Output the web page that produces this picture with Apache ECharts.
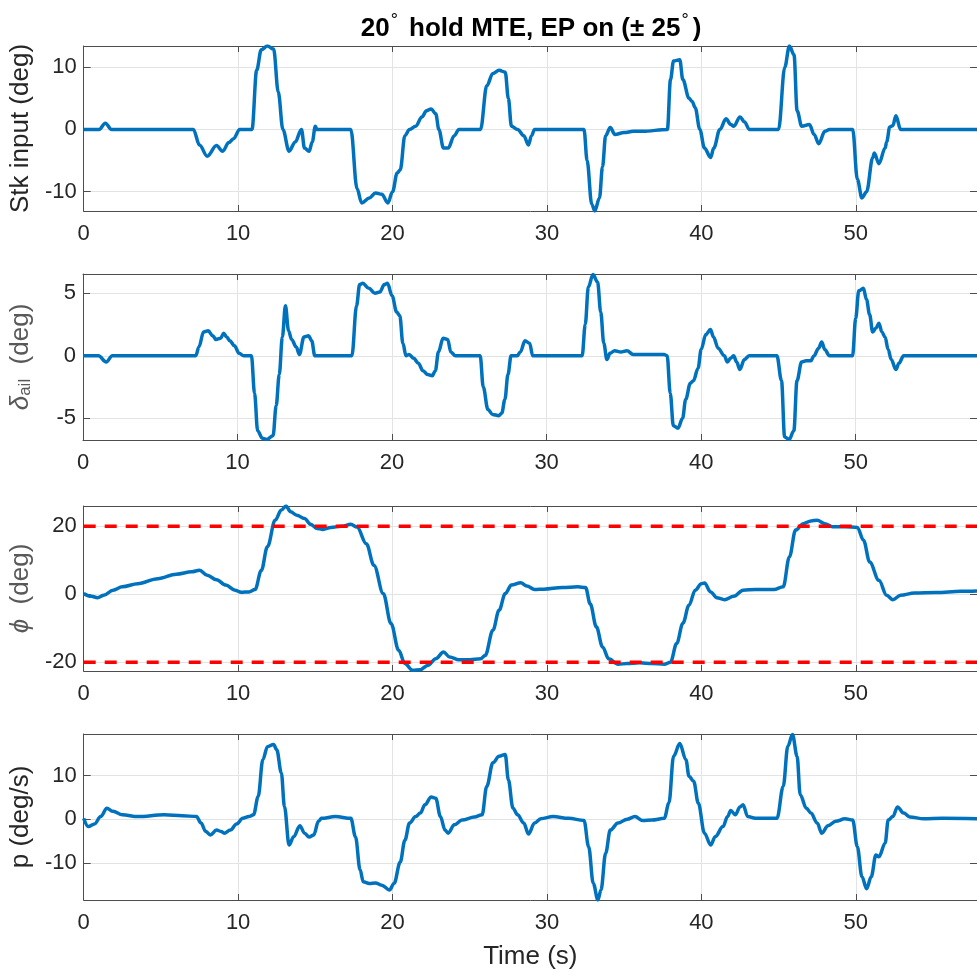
<!DOCTYPE html>
<html><head><meta charset="utf-8">
<script src="https://cdn.jsdelivr.net/npm/echarts@6/dist/echarts.min.js"></script>
<style>html,body{margin:0;padding:0;background:#fff}#c{width:977px;height:976px}</style>
</head><body><div id="c"></div>
<script>
// ---- data ----
const xTicks = [0, 10, 20, 30, 40, 50];
const xMax = 57.85;
const stkT = [0,1.0,1.4,1.8,7.1,7.5,8.0,8.6,9.0,9.4,9.7,10.1,10.9,11.2,11.5,11.9,12.3,12.6,12.9,13.3,13.7,14.1,14.3,14.6,14.8,15.0,15.1,17.3,17.7,18.0,18.5,18.9,19.3,19.7,20.0,20.3,20.5,20.8,21.1,21.5,21.9,22.2,22.5,22.8,23.0,23.3,23.6,24.0,24.3,25.7,26.1,26.5,26.9,27.3,27.5,27.7,28.1,28.5,28.8,29.0,29.2,32.4,32.6,32.9,33.1,33.4,33.6,33.8,34.1,34.4,35.0,35.6,36.2,37.8,38.0,38.2,38.6,38.8,39.2,39.4,39.6,39.9,40.2,40.6,40.8,41.2,41.6,41.9,42.1,42.5,42.8,43.1,45.0,45.4,45.7,46.0,46.2,46.5,47.0,47.3,47.6,48.0,48.3,49.8,50.1,50.4,50.7,51.1,51.2,51.5,51.9,52.0,52.2,52.4,52.6,52.9,57.85];
const stkV = [0,0,1.0,0,0,-2.5,-4.3,-2.6,-3.5,-2.1,-1.5,0,0,9.5,12.8,13.4,12.9,6,0,-3.5,-2,0,-3,-3.5,-2,0.5,0,0,-9.5,-11.8,-11,-10.2,-10.4,-11.8,-10,-7,-6.5,-1,0,0.5,2,3,3.3,2.5,0,-3,-3,-1,0,0,7,9,9.5,9.2,5,0.5,0,-1,-2.5,-1,0,0,-5,-12,-13.1,-11,-6,-1,0.3,-0.8,-0.5,-0.3,-0.3,0,8,11,11.2,8,5,4.5,3.5,0,-3,-4.5,-3,0,1.7,0.8,0.5,2,1.2,0,0,10,13.4,12,3,0.5,0.8,-0.8,-2.3,-0.3,0,0,-8,-11,-10,-4.5,-3.8,-5.5,-3,-2,0.4,0.6,2.2,0,0];

const ailT = [0,1.0,1.5,1.9,7.3,7.5,7.8,8.1,8.4,8.6,8.9,9.1,9.3,9.5,9.8,10.1,10.4,10.9,11.1,11.3,11.6,11.9,12.3,12.5,12.7,12.9,13.1,13.3,13.5,13.8,14.0,14.3,14.6,14.8,15.0,17.4,17.7,17.9,18.1,18.5,18.9,19.2,19.5,19.7,20.0,20.3,20.5,20.7,20.9,21.1,21.4,21.7,22.0,22.3,22.6,22.8,23.0,23.3,23.6,23.8,24.1,25.7,25.9,26.2,26.5,26.9,27.1,27.3,27.5,27.7,28.1,28.3,28.6,28.9,29.1,32.3,32.5,32.7,33.0,33.3,33.5,33.7,33.9,34.1,34.4,34.8,35.2,35.6,37.6,37.8,38.0,38.2,38.5,38.8,39.0,39.3,39.5,39.8,40.0,40.3,40.6,40.8,41.1,41.5,41.7,41.9,42.1,42.3,42.5,42.8,43.1,44.9,45.2,45.4,45.7,46.0,46.2,46.5,46.8,47.1,47.3,47.6,47.8,48.0,48.3,49.8,50.0,50.2,50.5,50.7,50.9,51.1,51.3,51.5,51.7,51.9,52.1,52.3,52.6,52.8,53.1,57.85];
const ailV = [0,0,-0.5,0,0,0.7,1.9,2.0,1.6,1.3,1.4,1.8,1.5,1.2,0.8,0.2,0,0,-3,-6,-6.6,-6.7,-6.4,-4,-1.5,1.5,4.0,2,1.3,0.7,0.1,1.5,1.6,1.2,0,0,4,5.7,5.8,5.4,5.0,5.1,5.7,5.8,4.8,3.5,3.2,1,0,0.1,-0.2,-0.6,-1.2,-1.5,-1.6,-1.2,0.3,1.4,1.3,0.3,0,0,-2.5,-4.3,-4.7,-4.8,-4.6,-3.5,-1.5,0,0,0.3,1.2,1.0,0,0,2.5,5.5,6.5,5.9,3.5,1,-0.3,0.2,0.4,0.3,0.4,0.1,0.1,0,-3,-5.6,-5.8,-5,-3.5,-2.2,-2,-1,0.5,1.7,2.1,1.5,0.6,0,-0.5,-0.2,0,-0.5,-1.1,-0.3,0,0,-2,-6.5,-6.7,-6,-2,-0.5,-0.4,-0.4,0,0.6,1.1,0.5,0,0,3,5.2,5.4,4.5,3.3,1.9,2.2,2.6,1.9,1.5,0.5,-0.3,-1.1,-0.6,0,0];

const phiT = [0,0.5,0.9,1.3,1.9,2.5,3.5,4.8,6.0,7.0,7.5,8.0,8.6,9.2,9.8,10.2,10.7,11.1,11.5,11.9,12.4,12.8,13.1,13.4,13.8,14.3,14.7,15.1,15.5,16.0,16.7,17.3,17.7,18.3,18.8,19.4,19.9,20.4,20.8,21.3,21.8,22.3,22.8,23.3,23.7,24.3,25.0,25.7,26.0,26.5,26.9,27.3,27.7,28.3,28.7,29.2,29.8,31.0,32.0,32.5,32.8,33.2,33.6,34.0,34.6,35.2,36.0,36.8,37.6,38.0,38.4,38.8,39.2,39.6,40.0,40.2,40.6,41.0,41.5,42.1,42.7,43.5,44.7,45.3,45.7,46.1,46.6,47.1,47.5,48.0,48.5,49.3,50.1,50.5,50.9,51.5,52.0,52.4,52.9,53.8,55.2,56.8,57.85];
const phiV = [0.2,-0.6,-1.0,-0.3,1.2,2.2,3.1,4.6,5.9,6.6,7.1,5.6,4.3,2.7,1.2,0.6,0.7,1.4,7,14,21.8,24.8,26.0,24.3,23.3,22.3,20.6,19.4,19.1,19.7,20.0,20.6,19.8,14.9,8.5,0.2,-8.6,-16.5,-20.4,-22.4,-22.2,-20.9,-19,-17,-18.5,-19.3,-19.3,-19,-18,-10.6,-4.7,0.2,2.7,3.4,2.4,1.4,1.5,2.0,2.2,2.0,-2.8,-9.6,-15.5,-19,-20.6,-20.4,-20.2,-20.4,-20.6,-20,-14.5,-8.6,-3.2,1.2,3.1,3.3,0.7,-1.0,-1.6,-0.6,1.2,1.4,1.4,2.2,11,18.9,20.8,21.6,21.8,20.8,19.9,19.9,19.7,15.9,9.5,4.1,-0.3,-1.6,-0.3,0.4,0.5,0.9,1.0];
const phiLimits = [20, -20];

const pT = [0,0.3,0.7,1.1,1.5,1.9,2.5,3.5,5.2,6.4,7.3,7.6,7.9,8.2,8.6,8.9,9.1,9.5,9.9,10.3,10.7,11.0,11.3,11.6,11.9,12.3,12.5,12.8,13.0,13.3,13.6,14.0,14.3,14.6,14.9,15.2,15.4,16.3,17.3,17.6,17.9,18.1,18.5,18.9,19.3,19.8,20.1,20.5,20.8,21.1,21.5,21.8,22.1,22.5,22.8,23.1,23.4,23.6,24.0,24.5,25.3,25.8,26.1,26.5,26.9,27.3,27.5,27.8,28.1,28.5,28.8,29.2,29.6,30.4,31.4,32.4,32.7,33.0,33.3,33.5,33.8,34.1,34.6,35.2,35.7,36.2,36.8,37.6,37.9,38.2,38.6,39.0,39.2,39.5,39.8,40.2,40.6,40.9,41.4,41.7,41.9,42.2,42.5,42.7,43.0,43.5,44.9,45.3,45.6,45.9,46.2,46.4,46.8,47.1,47.5,47.8,48.2,48.7,49.3,49.8,50.1,50.4,50.7,51.0,51.3,51.5,51.9,52.1,52.4,52.7,53.1,53.5,54.4,55.6,57.85];
const pV = [0.2,-1.7,-1.1,0.6,2.5,1.8,1.0,0.6,1.0,0.8,0.6,-0.9,-2.8,-3.6,-2.5,-2.8,-3.2,-2.5,-1.1,0.2,0.6,1.0,5.2,13.6,16.6,17.1,15.9,10.6,2.9,-5.9,-4.0,-1.5,-3.2,-4.1,-3.6,-0.5,0.2,0.6,0.2,-4,-11.6,-14.3,-14.7,-14.6,-15.1,-16.2,-14.7,-9.8,-4.8,-0.9,0.6,1.4,3.3,5.1,4.8,0.6,-2.5,-3.2,-1.3,-0.2,0.5,1.0,7.5,12.9,14.4,14.8,9.0,2.5,1.0,-0.9,-3.4,-0.9,0.1,0.6,0.2,-0.3,-6.3,-14.7,-18.5,-16.2,-7.8,-2.5,-0.9,0,0.6,-0.3,-0.2,0.2,3.7,14.4,17.3,13.6,9.8,8.7,3.7,-3.2,-5.9,-4,-1.7,0.6,2.0,1.0,2.8,3.3,0.6,0.2,0.2,7.5,16.7,19.4,14.4,5.6,2.5,1.4,-0.9,-3.2,-1.5,-0.5,0.1,-0.2,-6.3,-13.2,-15.9,-13.2,-8.2,-8.6,-5.5,-0.2,0.6,2.8,1.4,0.5,0.1,0.2,0.1];

const yRanges = [[-13.1, 13.4], [-6.75, 6.55], [-22.6, 26.0], [-18.5, 19.5]];
const ySteps = [10, 5, 20, 10];

// ---- chart ----
const FONT = 'Liberation Sans, Arial, sans-serif';
const TXT = '#262626';
const BLUE = '#0072BD';
const TICKFS = 22, NAMEFS = 26;
const grids = [
  {left: 83, right: 0, top: 46, height: 165},
  {left: 83, right: 0, top: 274, height: 166},
  {left: 83, right: 0, top: 506, height: 165},
  {left: 83, right: 0, top: 734, height: 166}
];
const yNames = [
  {name: 'Stk input (deg)', color: TXT},
  {name: '{i|δ}{sub|ail}{n|  (deg)}', color: '#595959'},
  {name: '{i|ϕ}{n|  (deg)}', color: '#595959'},
  {name: 'p (deg/s)', color: TXT}
];
const xAxes = [], yAxes = [];
grids.forEach((g, k) => {
  xAxes.push({
    gridIndex: k, type: 'value', min: 0, max: xMax, interval: 10, position: 'bottom',
    axisLine: {show: true, onZero: false, lineStyle: {color: '#4d4d4d', width: 1}},
    axisTick: {show: true, inside: true, length: 6, lineStyle: {color: '#4d4d4d'}},
    axisLabel: {color: TXT, fontFamily: FONT, fontSize: TICKFS, margin: 12, showMaxLabel: false},
    splitLine: {show: true, lineStyle: {color: '#e3e3e3', width: 1}},
    name: k === 3 ? 'Time (s)' : '', nameLocation: 'middle', nameGap: 44,
    nameTextStyle: {color: TXT, fontFamily: FONT, fontSize: NAMEFS}
  });
  xAxes.push({
    gridIndex: k, type: 'value', min: 0, max: xMax, interval: 10, position: 'top',
    axisLine: {show: true, onZero: false, lineStyle: {color: '#4d4d4d', width: 1}},
    axisTick: {show: true, inside: true, length: 6, lineStyle: {color: '#4d4d4d'}},
    axisLabel: {show: false}, splitLine: {show: false}
  });
  const r = yRanges[k], s = ySteps[k];
  yAxes.push({
    gridIndex: k, type: 'value', min: r[0], max: r[1], splitNumber: 3,
    minInterval: s, maxInterval: s, position: 'left',
    axisLine: {show: true, onZero: false, lineStyle: {color: '#4d4d4d', width: 1}},
    axisTick: {show: true, inside: true, length: 7, lineStyle: {color: '#4d4d4d'}},
    axisLabel: {color: TXT, fontFamily: FONT, fontSize: TICKFS, margin: 7, showMinLabel: false, showMaxLabel: false},
    splitLine: {show: true, lineStyle: {color: '#e3e3e3', width: 1}},
    name: yNames[k].name, nameLocation: 'middle', nameRotate: 90, nameGap: 49,
    nameTextStyle: {
      color: yNames[k].color, fontFamily: FONT, fontSize: NAMEFS,
      rich: {
        i: {fontStyle: 'italic', fontFamily: FONT, fontSize: NAMEFS, color: yNames[k].color},
        sub: {fontFamily: FONT, fontSize: 17, color: yNames[k].color, verticalAlign: 'bottom', padding: [9, 0, 0, 0]},
        n: {fontFamily: FONT, fontSize: NAMEFS, color: yNames[k].color}
      }
    }
  });
  yAxes.push({
    gridIndex: k, type: 'value', min: r[0], max: r[1], splitNumber: 3,
    minInterval: s, maxInterval: s, position: 'right',
    axisLine: {show: true, onZero: false, lineStyle: {color: '#4d4d4d', width: 1}},
    axisTick: {show: true, inside: true, length: 7, lineStyle: {color: '#4d4d4d'}},
    axisLabel: {show: false}, splitLine: {show: false}
  });
});

function pairs(t, v) { return t.map((x, i) => [x, v[i]]); }
function lineSeries(k, data) {
  return {
    type: 'line', xAxisIndex: 2 * k, yAxisIndex: 2 * k, data: data,
    showSymbol: false, symbol: 'none', smooth: 0.35, smoothMonotone: 'x',
    lineStyle: {color: BLUE, width: 3.5}, z: 3, silent: true, animation: false
  };
}
const series = [
  lineSeries(0, pairs(stkT, stkV)),
  lineSeries(1, pairs(ailT, ailV)),
  lineSeries(2, pairs(phiT, phiV)),
  lineSeries(3, pairs(pT, pV))
];
phiLimits.forEach(L => {
  series.push({
    type: 'line', xAxisIndex: 4, yAxisIndex: 4, data: [[0, L], [xMax, L]],
    showSymbol: false, symbol: 'none',
    lineStyle: {color: '#FF0000', width: 3.5, type: [12, 9]}, z: 4, silent: true, animation: false
  });
});

const chart = echarts.init(document.getElementById('c'), null, {renderer: 'canvas'});
chart.setOption({
  animation: false,
  backgroundColor: '#ffffff',
  grid: grids,
  xAxis: xAxes,
  yAxis: yAxes,
  series: series,
  graphic: [{
    type: 'text', x: 531, y: 27,
    style: {
      text: '{b|20}{sup|°}{b| hold MTE, EP on (± 25}{sup|°}{b|)}',
      align: 'center', verticalAlign: 'middle',
      rich: {
        b: {fontFamily: FONT, fontWeight: 'bold', fontSize: 26, fill: '#000', lineHeight: 30, verticalAlign: 'bottom'},
        sup: {fontFamily: FONT, fontWeight: 'normal', fontSize: 18, fill: '#000', lineHeight: 30, verticalAlign: 'top', padding: [0, 4, 12, 1]}
      }
    }
  }]
});
</script></body></html>
